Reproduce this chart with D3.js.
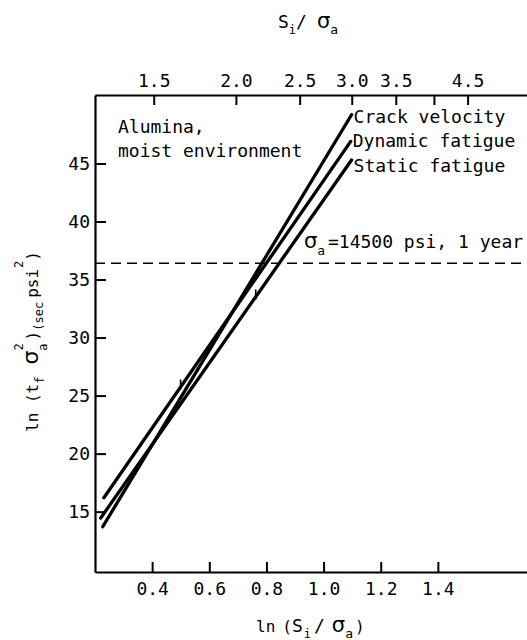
<!DOCTYPE html>
<html>
<head>
<meta charset="utf-8">
<script src="https://cdn.jsdelivr.net/npm/d3@7"></script>
<style>
  body { margin: 0; background: #fff; }
  svg text { font-family: "DejaVu Sans Mono", monospace; fill: #000; }
  svg tspan.greek { font-family: "DejaVu Sans", sans-serif; }
</style>
</head>
<body>
<svg id="chart" width="527" height="640"></svg>
<script>
// Bottom axis: ln(S_i / sigma_a)
const bottomTicks = [0.4, 0.6, 0.8, 1.0, 1.2, 1.4];
// Top axis: S_i / sigma_a (log-spaced, same positions as the bottom axis)
const topTicks = [1.5, 2.0, 2.5, 3.0, 3.5, 4.0, 4.5];
const topTickLabels = ["1.5", "2.0", "2.5", "3.0", "3.5", "", "4.5"];
// Left axis: ln(t_f sigma_a^2)
const leftTicks = [15, 20, 25, 30, 35, 40, 45];

// Three straight-line fits, each given by its two end points
const seriesNames = ["Crack velocity", "Dynamic fatigue", "Static fatigue"];
const seriesX = [[0.227, 1.098], [0.231, 1.095], [0.220, 1.098]];
const seriesY = [[13.7, 49.2], [16.2, 46.9], [14.45, 45.3]];

// Short cross marks drawn on two of the lines (series index, x value)
const markSeries = [1, 2];
const markX = [0.503, 0.766];

// Horizontal reference: sigma_a = 14500 psi for 1 year
const oneYearLevel = 36.4;

const svg = d3.select("#chart");
const plotLeft = 95, plotRight = 527, plotTop = 95, plotBottom = 572;

const x = d3.scaleLinear().domain([0.2, 1.712]).range([plotLeft, plotRight]);
const xTop = d3.scaleLog().domain([Math.exp(0.2), Math.exp(1.712)]).range([plotLeft, plotRight]);
const y = d3.scaleLinear().domain([9.8, 50.9]).range([plotBottom, plotTop]);

function styleAxis(g, size) {
  g.attr("font-family", null).attr("font-size", null);
  g.selectAll("path.domain").attr("stroke", "#000").attr("stroke-width", 2.2);
  g.selectAll(".tick line").attr("stroke", "#000").attr("stroke-width", 2);
  g.selectAll(".tick text").style("font-size", size + "px");
}

// bottom axis, ticks pointing into the plot
svg.append("g")
  .attr("transform", `translate(0,${plotBottom})`)
  .call(d3.axisBottom(x).tickValues(bottomTicks).tickSize(-10).tickSizeOuter(0)
        .tickPadding(10).tickFormat(d3.format(".1f")))
  .call(g => styleAxis(g, 18));

// top axis
svg.append("g")
  .attr("transform", `translate(0,${plotTop})`)
  .call(d3.axisTop(xTop).tickValues(topTicks).tickSize(-10).tickSizeOuter(0)
        .tickPadding(8).tickFormat((d, i) => topTickLabels[i]))
  .call(g => styleAxis(g, 18));

// left axis
svg.append("g")
  .attr("transform", `translate(${plotLeft},0)`)
  .call(d3.axisLeft(y).tickValues(leftTicks).tickSize(-11).tickSizeOuter(0)
        .tickPadding(5).tickFormat(d3.format("d")))
  .call(g => styleAxis(g, 18));

// dashed 1-year reference line
svg.append("line")
  .attr("x1", plotLeft).attr("x2", plotRight)
  .attr("y1", y(oneYearLevel)).attr("y2", y(oneYearLevel))
  .attr("stroke", "#000").attr("stroke-width", 1.6)
  .attr("stroke-dasharray", "10,6");

// fitted lines
const line = d3.line().x(d => x(d[0])).y(d => y(d[1]));
const seriesData = seriesNames.map((name, i) => ({
  name,
  pts: seriesX[i].map((vx, j) => [vx, seriesY[i][j]])
}));

svg.append("g").selectAll("path")
  .data(seriesData)
  .join("path")
  .attr("d", d => line(d.pts))
  .attr("fill", "none")
  .attr("stroke", "#000")
  .attr("stroke-width", 3.3)
  .attr("stroke-linecap", "round");

// series labels stacked beside the upper ends of the lines
const labelTop = y(seriesY[0][1]) + 8;
svg.append("g").selectAll("text")
  .data(seriesData)
  .join("text")
  .attr("x", d => x(d.pts[1][0]) + 2)
  .attr("y", (d, i) => labelTop + i * 24.5)
  .style("font-size", "18px")
  .text(d => d.name);

// cross marks on the lines
function valueOn(s, vx) {
  const [x0, x1] = seriesX[s], [y0, y1] = seriesY[s];
  return y0 + (vx - x0) * (y1 - y0) / (x1 - x0);
}
svg.append("g").selectAll("line")
  .data(markX.map((vx, i) => ({ vx, vy: valueOn(markSeries[i], vx) })))
  .join("line")
  .attr("x1", d => x(d.vx) - 1).attr("x2", d => x(d.vx) - 1)
  .attr("y1", d => y(d.vy) - 6).attr("y2", d => y(d.vy) + 4)
  .attr("stroke", "#000").attr("stroke-width", 1.6);

// material note
const note = svg.append("text").style("font-size", "18px");
note.append("tspan").attr("x", 118).attr("y", 133).text("Alumina,");
note.append("tspan").attr("x", 118).attr("y", 157).text("moist environment");

// reference-line annotation
const ann = svg.append("text").attr("y", y(oneYearLevel) - 15);
ann.append("tspan").attr("class", "greek").attr("x", 304).style("font-size", "21px").text("σ");
ann.append("tspan").attr("dy", 7).style("font-size", "13px").text("a");
ann.append("tspan").attr("x", 328).attr("dy", -7).style("font-size", "18px").text("=14500 psi, 1 year");

// top axis title: S_i / sigma_a
const tt = svg.append("text").attr("x", 278).attr("y", 28);
tt.append("tspan").style("font-size", "18px").text("S");
tt.append("tspan").attr("dy", 6).style("font-size", "12px").text("i");
tt.append("tspan").attr("dy", -6).style("font-size", "18px").text("/");
tt.append("tspan").attr("class", "greek").attr("dx", 10).style("font-size", "21px").text("σ");
tt.append("tspan").attr("dy", 6).style("font-size", "13px").text("a");

// bottom axis title: ln (S_i / sigma_a)
const bt = svg.append("text").attr("x", 256).attr("y", 632);
bt.append("tspan").style("font-size", "16px").text("ln");
bt.append("tspan").attr("dx", 7).style("font-size", "16px").text("(");
bt.append("tspan").style("font-size", "18px").text("S");
bt.append("tspan").attr("dx", 1).attr("dy", 6).style("font-size", "12px").text("i");
bt.append("tspan").attr("dx", 3).attr("dy", -6).style("font-size", "18px").text("/");
bt.append("tspan").attr("class", "greek").attr("dx", 7).style("font-size", "21px").text("σ");
bt.append("tspan").attr("dy", 6).style("font-size", "13px").text("a");
bt.append("tspan").attr("dx", 2).attr("dy", -6).style("font-size", "16px").text(")");

// left axis title: ln (t_f sigma_a^2)(sec psi^2), read bottom to top
const lt = svg.append("text").attr("transform", "translate(38,432) rotate(-90)");
lt.append("tspan").style("font-size", "16px").text("ln (t");
lt.append("tspan").attr("dy", 6).style("font-size", "12px").text("f");
lt.append("tspan").attr("class", "greek").attr("dx", 12).attr("dy", -6).style("font-size", "22px").text("σ");
lt.append("tspan").attr("dy", 9).style("font-size", "12px").text("a");
lt.append("tspan").attr("dx", -7.2).attr("dy", -24).style("font-size", "12px").text("2");
lt.append("tspan").attr("dx", 3).attr("dy", 15).style("font-size", "16px").text(")");
lt.append("tspan").attr("dy", 5).style("font-size", "12px").text("(sec");
lt.append("tspan").attr("dx", 4).attr("dy", -5).style("font-size", "16px").text("psi");
lt.append("tspan").attr("dx", 1).attr("dy", -15).style("font-size", "12px").text("2");
lt.append("tspan").attr("dy", 15).style("font-size", "16px").text(")");
</script>
</body>
</html>
